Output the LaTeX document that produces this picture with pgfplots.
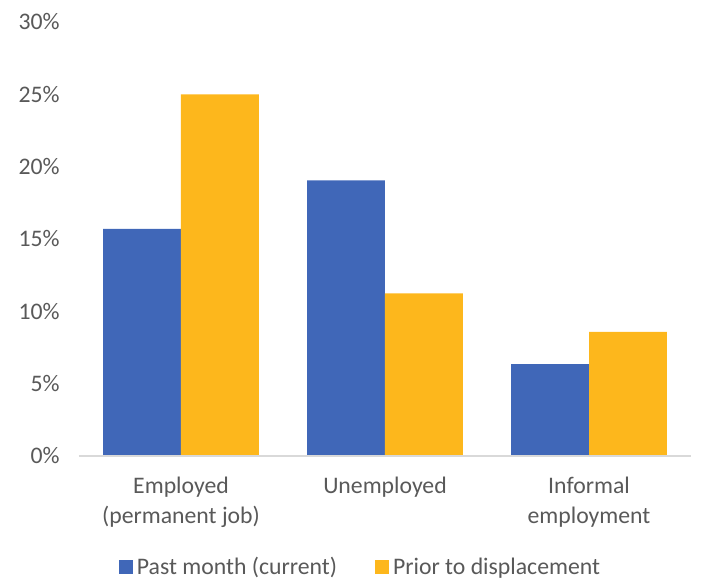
\documentclass[border=0pt]{standalone}
\usepackage{pgfplots}
\pgfplotsset{compat=1.18}
\usepackage{fontspec}
\setmainfont{Carlito}
\definecolor{barblue}{HTML}{4067B8}
\definecolor{bargold}{HTML}{FDB71C}
\definecolor{txtgray}{HTML}{595959}
\definecolor{axgray}{HTML}{D9D9D9}
\begin{document}
\begin{tikzpicture}
\useasboundingbox (-59.25pt,-93pt) rectangle (466.5pt,342pt);
\begin{axis}[
    at={(0,0)}, anchor=south west,
    scale only axis,
    width=459pt, height=325.5pt,
    font=\fontsize{17.8}{23}\selectfont,
    ybar=0pt,
    bar width=0.382,
    xmin=-0.5, xmax=2.5,
    ymin=0, ymax=30,
    ytick={0,5,...,30},
    yticklabel={\pgfmathprintnumber{\tick}\%},
    /pgf/number format/assume math mode=true,
    xtick=data,
    xticklabels={{Employed\\(permanent job)},{Unemployed},{Informal\\employment}},
    xticklabel style={align=center, text=txtgray, yshift=-12pt},
    yticklabel style={text=txtgray, xshift=-11pt},
    major tick length=0pt,
    axis x line*=bottom,
    axis y line*=left,
    x axis line style={draw=none},
    y axis line style={draw=none},
    clip=false,
    legend columns=2,
    legend style={at={(0.46,-0.256)}, anchor=center, draw=none,
        font=\fontsize{17.8}{23}\selectfont, text=txtgray,
        nodes={inner xsep=1.5pt},
        /tikz/every odd column/.append style={column sep=1.5pt},
        /tikz/every even column/.append style={column sep=27pt}},
    legend image code/.code={\fill[#1] (0pt,-5.25pt) rectangle (10.5pt,5.25pt);},
]
\addplot[fill=barblue, draw=none] coordinates {(0,15.7) (1,19.06) (2,6.35)};
\addplot[fill=bargold, draw=none] coordinates {(0,25.0) (1,11.24) (2,8.58)};
\draw[axgray, line width=1.3pt] (axis cs:-0.5,0) -- (axis cs:2.5,0);
\legend{Past month (current), Prior to displacement}
\end{axis}
\end{tikzpicture}
\end{document}
